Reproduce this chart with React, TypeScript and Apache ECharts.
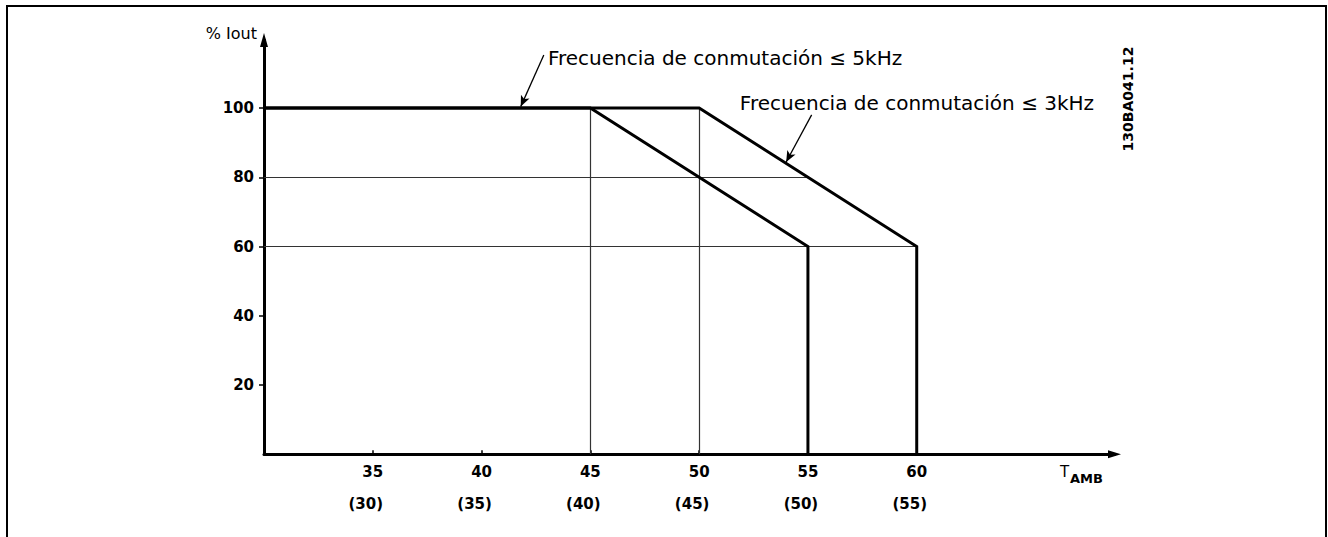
import { useEffect, useRef } from "react";
import * as echarts from "echarts";

// Axis ticks / labels
const tempTicks = [35, 40, 45, 50, 55, 60];
const tempTicksAlt = ["(30)", "(35)", "(40)", "(45)", "(50)", "(55)"];
const currentTicks = [20, 40, 60, 80, 100];

// Derating curves (ambient temperature -> % Iout)
const curve5kHzT = [30, 45, 55, 55];
const curve5kHzI = [100, 100, 60, 0];
const curve3kHzT = [30, 50, 60, 60];
const curve3kHzI = [100, 100, 60, 0];

// Thin guide lines
const guideStartT = [30, 30, 45, 50];
const guideStartI = [80, 60, 100, 100];
const guideEndT = [55, 60, 45, 50];
const guideEndI = [80, 60, 0, 0];

// Annotations
const annotationTexts = [
  "Frecuencia de conmutación ≤ 5kHz",
  "Frecuencia de conmutación ≤ 3kHz",
];
const annotationT = [43.05, 51.87];
const annotationI = [114.4, 101.4];
const arrowFromT = [42.86, 55.17];
const arrowFromI = [115.3, 98.0];
const arrowToT = [41.8, 54.0];
const arrowToI = [100.4, 84.4];

const FONT = "DejaVu Sans";

export default function App() {
  const ref = useRef<HTMLDivElement>(null);

  useEffect(() => {
    if (!ref.current) return;
    const chart = echarts.init(ref.current, undefined, { renderer: "svg" });

    const zip = (xs: number[], ys: number[]) => xs.map((x, i) => [x, ys[i]]);

    const annotationSeries = (k: number) => ({
      markPoint: {
        symbol: "circle",
        symbolSize: 0,
        itemStyle: { color: "transparent" },
        label: {
          show: true,
          position: "right",
          distance: 0,
          formatter: annotationTexts[k],
          color: "#000",
          fontFamily: FONT,
          fontSize: 20,
        },
        data: [{ coord: [annotationT[k], annotationI[k]] }],
      },
      markLine: {
        silent: true,
        symbol: ["none", "arrow"],
        symbolSize: [7, 11],
        lineStyle: { color: "#000", width: 1.3, type: "solid" },
        label: { show: false },
        data: [
          [
            { coord: [arrowFromT[k], arrowFromI[k]] },
            { coord: [arrowToT[k], arrowToI[k]] },
          ],
        ],
      },
    });

    const axisLabelStyle = {
      color: "#000",
      fontFamily: FONT,
      fontWeight: "bold",
      fontSize: 15,
    };

    chart.setOption({
      animation: false,
      backgroundColor: "#fff",
      grid: { left: 264, top: 40, width: 850.5, height: 414.25 },
      xAxis: [
        {
          type: "value",
          position: "bottom",
          min: 30,
          max: 69.09,
          axisLine: {
            show: true,
            symbol: ["none", "triangle"],
            symbolSize: [8, 13],
            lineStyle: { color: "#000", width: 3 },
          },
          axisTick: {
            show: true,
            inside: true,
            length: 4,
            customValues: tempTicks,
            lineStyle: { color: "#000", width: 1.5 },
          },
          axisLabel: { ...axisLabelStyle, margin: 10, customValues: tempTicks },
          splitLine: { show: false },
        },
        {
          type: "value",
          position: "bottom",
          gridIndex: 0,
          min: 30,
          max: 69.09,
          axisLine: { show: false },
          axisTick: { show: false },
          axisLabel: {
            ...axisLabelStyle,
            margin: 42,
            padding: [0, 14, 0, 0],
            customValues: tempTicks,
            formatter: (v: number) => tempTicksAlt[tempTicks.indexOf(v)] ?? "",
          },
          splitLine: { show: false },
        },
      ],
      yAxis: {
        type: "value",
        min: 0,
        max: 119.64,
        axisLine: {
          show: true,
          symbol: ["none", "triangle"],
          symbolSize: [8, 14],
          lineStyle: { color: "#000", width: 3 },
        },
        axisTick: {
          show: true,
          inside: false,
          length: 5,
          customValues: currentTicks,
          lineStyle: { color: "#000", width: 1.5 },
        },
        axisLabel: { ...axisLabelStyle, margin: 10, customValues: currentTicks },
        splitLine: { show: false },
      },
      series: [
        {
          type: "lines",
          coordinateSystem: "cartesian2d",
          z: 1,
          lineStyle: { color: "#333", width: 1.2, opacity: 1 },
          data: guideStartT.map((t, i) => ({
            coords: [
              [t, guideStartI[i]],
              [guideEndT[i], guideEndI[i]],
            ],
          })),
        },
        {
          type: "line",
          name: "5kHz",
          z: 3,
          symbol: "none",
          lineStyle: { color: "#000", width: 3, join: "miter" },
          data: zip(curve5kHzT, curve5kHzI),
          ...annotationSeries(0),
        },
        {
          type: "line",
          name: "3kHz",
          z: 3,
          symbol: "none",
          lineStyle: { color: "#000", width: 3, join: "miter" },
          data: zip(curve3kHzT, curve3kHzI),
          ...annotationSeries(1),
        },
      ],
      graphic: [
        {
          type: "rect",
          shape: { x: 7, y: 6, width: 1319, height: 600 },
          style: { fill: "none", stroke: "#000", lineWidth: 2 },
        },
        {
          type: "text",
          x: 257,
          y: 33,
          style: {
            text: "% Iout",
            fill: "#000",
            font: `16px "${FONT}"`,
            align: "right",
            verticalAlign: "middle",
          },
        },
        {
          type: "text",
          x: 1060,
          y: 471.5,
          style: {
            text: "T",
            fill: "#000",
            font: `15px "${FONT}"`,
            align: "left",
            verticalAlign: "middle",
          },
        },
        {
          type: "text",
          x: 1070,
          y: 478.5,
          style: {
            text: "AMB",
            fill: "#000",
            font: `bold 13px "${FONT}"`,
            align: "left",
            verticalAlign: "middle",
          },
        },
        {
          type: "text",
          x: 1127.5,
          y: 99,
          rotation: Math.PI / 2,
          style: {
            text: "130BA041.12",
            fill: "#000",
            font: `bold 14px "${FONT}"`,
            align: "center",
            verticalAlign: "middle",
          },
        },
      ],
    });

    return () => chart.dispose();
  }, []);

  return (
    <div
      ref={ref}
      style={{ position: "fixed", left: 0, top: 0, width: 1328, height: 537 }}
    />
  );
}
